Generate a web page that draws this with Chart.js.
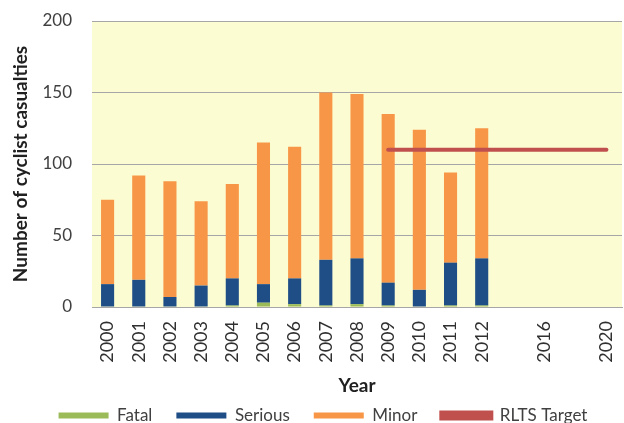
<!DOCTYPE html>
<html>
<head>
<meta charset="utf-8">
<script src="https://cdn.jsdelivr.net/npm/chart.js@4"></script>
<style>
  html, body { margin: 0; padding: 0; background: #fff; }
  #wrap { width: 624px; height: 423px; }
</style>
</head>
<body>
<div id="wrap"><canvas id="casualties"></canvas></div>
<script>
// years on the x axis (blank slots keep 2016 / 2020 spaced out)
const years = ['2000', '2001', '2002', '2003', '2004', '2005', '2006', '2007', '2008', '2009', '2010', '2011', '2012', '', '2016', '', '2020'];

const fatal   = [0, 0, 0, 0, 1, 3, 2, 1, 2, 1, 0, 1, 1];
const serious = [16, 19, 7, 15, 19, 13, 18, 32, 32, 16, 12, 30, 33];
const minor   = [59, 73, 81, 59, 66, 99, 92, 117, 115, 118, 112, 63, 91];
const target  = [null, null, null, null, null, null, null, null, null, 110, 110, 110, 110, 110, 110, 110, 110];

const yTicks = [0, 50, 100, 150, 200];

const plotBg = {
  id: 'plotBg',
  beforeDraw(chart) {
    const a = chart.chartArea;
    const ctx = chart.ctx;
    ctx.save();
    ctx.fillStyle = '#fcfcd2';
    ctx.fillRect(a.left, a.top, a.right - a.left, a.bottom - a.top);
    ctx.restore();
  }
};

const fontName = 'Lato, "Open Sans", sans-serif';

new Chart(document.getElementById('casualties'), {
  type: 'bar',
  data: {
    labels: years,
    datasets: [
      { label: 'Fatal', data: fatal, backgroundColor: '#9bbb59', order: 1 },
      { label: 'Serious', data: serious, backgroundColor: '#1f4e87', order: 1 },
      { label: 'Minor', data: minor, backgroundColor: '#f79646', order: 1 },
      {
        type: 'line', label: 'RLTS Target', data: target,
        borderColor: '#c0504d', backgroundColor: '#c0504d',
        borderWidth: 4, borderCapStyle: 'round', pointRadius: 0, order: 0
      }
    ]
  },
  options: {
    responsive: true,
    maintainAspectRatio: false,
    animation: false,
    // left padding only nudges the legend right; the y axis width below keeps the plot at x=92
    layout: { padding: { top: 21, right: 2, left: 24, bottom: -11 } },
    datasets: { bar: { categoryPercentage: 1, barPercentage: 0.42 } },
    plugins: {
      tooltip: { enabled: false },
      legend: {
        position: 'bottom',
        labels: {
          boxWidth: 50, boxHeight: 6, padding: 24,
          color: '#404040', font: { family: fontName, size: 17 },
          sort: (a, b) => a.datasetIndex - b.datasetIndex
        }
      }
    },
    scales: {
      x: {
        stacked: true,
        afterFit: (s) => { s.paddingLeft = 0; s.paddingRight = 0; s.height = 76; },
        grid: { display: false, drawTicks: false },
        border: { display: true, color: '#a6a6a6' },
        ticks: {
          minRotation: 90, maxRotation: 90, autoSkip: false,
          color: '#303030', font: { family: fontName, size: 18 }, padding: 14
        },
        title: {
          display: true, text: 'Year', color: '#202020',
          font: { family: fontName, size: 19, weight: 'bold' }, padding: { top: 0, bottom: -14 }
        }
      },
      y: {
        stacked: true,
        min: 0, max: 200,
        afterBuildTicks: (axis) => { axis.ticks = yTicks.map(v => ({ value: v })); },
        afterFit: (s) => { s.width = 68; s.paddingTop = 0; s.paddingBottom = 0; },
        grid: { color: '#a6a6a6', drawTicks: false },
        border: { display: false },
        ticks: { color: '#404040', font: { family: fontName, size: 17 }, padding: 20 },
        title: {
          display: true, text: 'Number of cyclist casualties', color: '#202020',
          font: { family: fontName, size: 19, weight: 'bold' }, padding: { top: -15, bottom: 0 }
        }
      }
    }
  },
  plugins: [plotBg]
});
</script>
</body>
</html>
